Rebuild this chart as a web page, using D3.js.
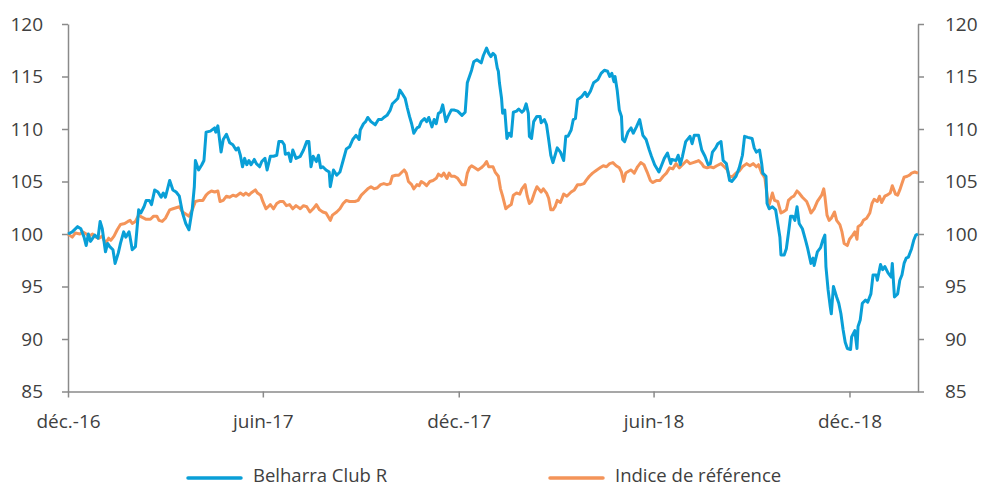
<!DOCTYPE html>
<html>
<head>
<meta charset="utf-8">
<script src="https://cdn.jsdelivr.net/npm/d3@7"></script>
<style>
  body { margin: 0; background: #fff; }
  svg text { font-family: "Open Sans", sans-serif; fill: #404040; }
</style>
</head>
<body>
<div id="chart"></div>
<script>
// jours depuis le 1er décembre 2016
const startDate = new Date(2016, 11, 1);
const endDay = 794;

const belharraDays = [0,4,9,12,15,17,19,21,25,28,30,32,35,37,39,42,44,47,49,52,54,57,58,60,63,66,68,71,73,76,78,81,84,87,89,91,95,98,101,104,107,110,113,116,118,119,122,125,127,129,133,137,138,140,143,145,148,151,154,157,159,161,163,165,167,169,171,174,176,179,181,184,186,189,192,195,197,200,202,203,206,208,210,213,217,220,223,225,227,229,232,234,236,238,241,244,245,248,251,254,257,260,263,266,269,272,273,276,278,280,283,287,290,293,295,298,301,303,305,308,310,312,315,317,319,321,323,326,328,330,333,335,337,340,342,344,346,348,350,353,355,358,361,364,368,371,373,375,377,379,382,386,388,391,393,395,397,399,401,402,403,405,406,408,410,412,414,416,419,421,424,426,428,430,431,433,435,438,441,442,445,447,449,451,453,455,457,460,463,465,467,470,472,474,476,480,483,485,488,491,495,498,501,504,506,508,510,511,513,515,517,518,520,523,526,528,531,534,537,540,543,545,548,552,557,560,563,564,568,570,572,574,577,581,583,585,589,592,595,598,600,602,605,607,610,612,615,618,620,624,627,630,632,635,639,641,643,646,648,649,652,653,655,658,661,663,665,666,669,671,673,675,677,679,681,683,686,689,691,694,696,697,700,703,705,707,708,710,712,713,715,718,720,722,724,726,728,731,732,735,737,738,740,742,745,747,750,752,755,756,759,761,763,766,769,770,772,775,777,779,781,783,785,788,790,792,794];
const belharraValues = [100,100.2,100.7,100.5,99.7,98.9,100,99.3,99.9,99.6,101.2,100.5,98.3,99.1,98.8,98.5,97.2,98.2,99.1,100.2,99.7,100.2,99.7,98.5,98.8,102.3,102,102.6,103.2,103.2,102.8,104.2,104,103.5,103.9,103.5,105.1,104.2,104,103.6,102,101,100.4,102.3,104.5,107,106.1,106.6,107,109.7,109.8,110.1,109.7,110.3,107.8,109,109.5,108.7,108.5,108,108.2,107.5,106.4,107.2,106.6,107,106.6,107.1,106.7,106.4,106.9,107.2,106.1,107.4,107.4,107.5,108.8,108.8,108.5,107.6,107.7,106.9,108,107.2,107.4,108,108.8,108.8,106.4,107.4,106.9,107.5,106.3,106.4,106.1,105.9,104.5,106.1,105.6,105.9,107,108.1,108.3,109,109.4,109,109.9,110.5,110.7,111.1,110.7,110.4,110.9,110.9,111.1,111.3,111.8,112.4,112.6,112.9,113.7,113.4,112.9,112,111.2,110.5,109.6,110.1,110.2,110.7,111,110.7,111.1,110.2,110.9,110.5,111.5,111.6,112.3,110.7,111.2,111.8,111.8,111.7,111.3,111.6,114.4,115,115.6,116.4,116.6,116.3,117,117.7,117.2,116.9,117.2,117,115.8,115.5,114.4,112.9,111.5,111.8,109.1,109.6,109.3,111.6,111.7,111.9,111.6,111.8,112.4,111.5,109.3,109.1,110.7,111.2,111.2,110.6,110.9,110.4,109,107.5,106.8,107.5,108.2,107.8,107,109.3,109.3,109.9,110.9,111,112.8,113.1,113.5,113.1,113.6,114.4,114.7,115.3,115.6,115.5,115,115.3,114.5,115,113.7,111.8,111.2,109,108.8,109.7,110.1,109.6,110.2,110.9,109.4,109,108,107.4,106.6,105.9,107.2,107.7,106.7,107.1,107,107.5,106.6,107.4,108.8,109.3,108.6,109.4,109.4,108,107.4,106.6,106.7,107.8,108.2,108.6,108.8,107,106.7,105.1,105,105.5,106.3,107.5,109.3,109.2,109.1,108.2,107.8,108,106.7,105.8,105.5,102.9,102.4,102.6,102.3,101,99.7,98,98,98.6,100.1,101.7,101.7,101.3,102.6,101,100.5,99.4,98.6,97.2,97.7,97,98.3,98.7,99.4,99.9,96.9,94.7,93.1,92.4,95,94,93.4,92.4,90.9,89.7,89.1,89,90.2,90.8,89.1,91.2,91.8,93.4,93.7,93.5,94.3,96.1,96.1,95.6,97.1,96.6,96.9,96.3,95.9,97.2,94,94.3,95.6,96.1,97.2,97.7,97.8,98.6,99.4,99.9,100];

const indiceDays = [0,4,7,11,14,17,20,23,26,29,32,35,38,40,43,46,49,53,56,58,60,63,66,69,73,77,80,83,85,88,91,95,98,101,104,107,110,113,116,119,123,126,129,131,134,137,140,142,145,148,151,154,157,161,164,166,169,171,175,177,180,182,185,187,189,192,195,198,201,204,207,210,213,217,220,223,226,229,232,235,238,241,245,247,251,254,257,260,263,268,271,274,277,280,283,286,289,292,295,298,301,303,306,309,312,314,316,318,321,323,326,328,330,333,335,338,341,344,346,349,351,354,356,358,361,364,368,371,373,375,377,380,383,386,389,391,393,397,399,402,404,406,409,411,414,416,419,422,424,427,429,431,433,436,438,442,444,447,449,451,453,455,457,460,463,466,470,473,476,479,482,484,487,490,494,497,500,503,506,509,512,515,517,519,521,524,526,529,532,535,538,541,544,546,550,553,556,559,562,565,568,571,574,578,581,584,587,589,592,594,597,600,603,606,610,613,616,618,621,624,627,630,634,637,640,643,645,648,650,651,652,654,655,658,660,663,666,668,671,673,676,678,681,683,686,690,692,694,697,700,704,706,707,709,711,713,716,718,721,723,725,728,730,733,735,737,738,741,743,746,749,751,753,756,758,760,763,765,768,770,773,775,777,779,781,784,786,788,791,794];
const indiceValues = [100,99.7,100.1,100,100.2,100,99.8,100,99.7,99.6,99.8,99.1,99.6,99.4,99.8,100.4,100.9,101,101.2,101.3,101,101.2,101.8,101.6,101.4,101.4,101.7,101.7,101.3,101.2,101.5,102.3,102.4,102.5,102.6,102.1,101.9,101.7,102.3,103.1,103.2,103.2,103.7,103.9,104.1,104,104.1,103.1,103.2,103.6,103.5,103.7,103.6,103.9,103.7,103.9,103.7,103.9,104.2,103.9,103.7,103.1,102.4,102.6,102.8,102.4,102.9,103.1,103.1,102.7,102.8,102.4,102.7,102.4,102.7,102.6,102.1,102.4,102.8,102.3,102.1,102,101.3,101.8,102.1,102.4,102.9,103.2,103.1,103.1,103.2,103.7,104,104.3,104.5,104.3,104.4,104.7,104.8,104.7,104.8,105.5,105.6,105.6,105.9,106.1,105.8,105,104.7,104.3,104.7,104.6,105,104.8,104.6,105,105.1,105.3,105.7,105.5,105.8,105.3,105.8,105.5,105.5,105.3,104.7,104.7,105.8,106.3,106.5,106.3,106.1,106.3,106.6,106.9,106.4,106.4,105.9,105.5,104.3,103.6,102.4,102.6,102.8,103.7,103.9,103.8,104.3,104.7,103.6,102.9,103.1,104,104.5,104,104.3,103.9,103.4,102.3,102.3,102.6,103.2,103,103.8,103.6,104,104.2,104.7,104.7,104.8,105.1,105.5,105.8,106.1,106.3,106.5,106.4,106.7,106.8,106.5,106.3,105.9,105,105.8,106,106.1,105.8,106.4,106.8,106.6,105.9,105.1,104.9,105.1,105.1,105.5,105.8,106.3,106.2,106.7,106.3,106.6,107,106.7,106.8,106.9,107,106.7,106.4,106.3,106.4,106.3,106.5,106.7,106.4,106.1,105.4,105.5,105.8,106,106.4,106.7,106.5,106.7,106.4,106.6,105.8,105.5,105.3,104.5,102.9,102.8,103.9,103.2,103.1,102,102.1,102.3,103.2,103.5,103.6,104.1,103.9,103.5,103.1,102.6,102,102.4,103.1,103.7,104.3,103.6,101.8,101.3,101.5,102.1,101.3,100.9,100.2,99.1,98.9,99.5,99.9,100.2,99.5,100.7,100.9,101.3,101.5,102,102.9,103.3,103.1,103.6,103,103.6,103.7,103.9,104.6,103.8,103.7,104.2,104.8,105.4,105.5,105.6,105.8,105.9,105.8];

const yTicks = [85, 90, 95, 100, 105, 110, 115, 120];
const xTickDates = [new Date(2016, 11, 1), new Date(2017, 5, 1), new Date(2017, 11, 1), new Date(2018, 5, 1), new Date(2018, 11, 1)];
const xTickLabels = ["déc.-16", "juin-17", "déc.-17", "juin-18", "déc.-18"];
const seriesNames = ["Belharra Club R", "Indice de référence"];
const colors = ["#099fd7", "#f49459"];

const width = 981, height = 486;
const margin = { top: 24, right: 63, bottom: 94.5, left: 68 };
const innerW = width - margin.left - margin.right,
      innerH = height - margin.top - margin.bottom;

const svg = d3.select("#chart").append("svg")
    .attr("width", width)
    .attr("height", height);

const g = svg.append("g")
    .attr("transform", `translate(${margin.left},${margin.top})`);

const x = d3.scaleTime()
    .domain([startDate, d3.timeDay.offset(startDate, endDay)])
    .range([0, innerW]);

const y = d3.scaleLinear()
    .domain([85, 120])
    .range([innerH, 0]);

function toPoints(days, values) {
  return days.map((d, i) => ({ date: d3.timeDay.offset(startDate, d), value: values[i] }));
}
const series = [toPoints(belharraDays, belharraValues), toPoints(indiceDays, indiceValues)];

// axes
const axisColor = "#8a8a8a";
function styleAxis(sel) {
  sel.select(".domain").attr("stroke", axisColor).attr("stroke-width", 1.5);
  sel.selectAll(".tick line").attr("stroke", axisColor).attr("stroke-width", 1.5);
  sel.selectAll(".tick text").style("font-size", "19px").attr("fill", "#404040");
}

g.append("g")
    .call(d3.axisLeft(y).tickValues(yTicks).tickSize(6).tickPadding(19).tickSizeOuter(0))
    .call(styleAxis);

g.append("g")
    .attr("transform", `translate(${innerW},0)`)
    .call(d3.axisRight(y).tickValues(yTicks).tickSize(6).tickPadding(21).tickSizeOuter(0))
    .call(sel => sel.selectAll(".tick text").attr("text-anchor", "start"))
    .call(styleAxis);

g.append("g")
    .attr("transform", `translate(0,${innerH})`)
    .call(d3.axisBottom(x).tickValues(xTickDates).tickSize(6).tickPadding(17).tickSizeOuter(0)
      .tickFormat((d, i) => xTickLabels[i]))
    .call(styleAxis);

// lignes
const line = d3.line()
    .x(d => x(d.date))
    .y(d => y(d.value));

// l'indice est dessiné en premier, le fonds par-dessus
[1, 0].forEach(i => {
  g.append("path")
    .datum(series[i])
    .attr("fill", "none")
    .attr("stroke", colors[i])
    .attr("stroke-width", 3)
    .attr("stroke-linejoin", "round")
    .attr("d", line);
});

// légende
const legendX = [188, 550];
const legend = svg.selectAll(".legend")
  .data(seriesNames)
  .join("g")
    .attr("transform", (d, i) => `translate(${legendX[i]},476)`);

legend.append("line")
    .attr("x1", 0).attr("x2", 53)
    .attr("y1", 2).attr("y2", 2)
    .attr("stroke", (d, i) => colors[i])
    .attr("stroke-width", 3.5)
    .attr("stroke-linecap", "round");

legend.append("text")
    .attr("x", 65)
    .attr("dy", "0.35em")
    .style("font-size", "18.5px")
    .text(d => d);
</script>
</body>
</html>
